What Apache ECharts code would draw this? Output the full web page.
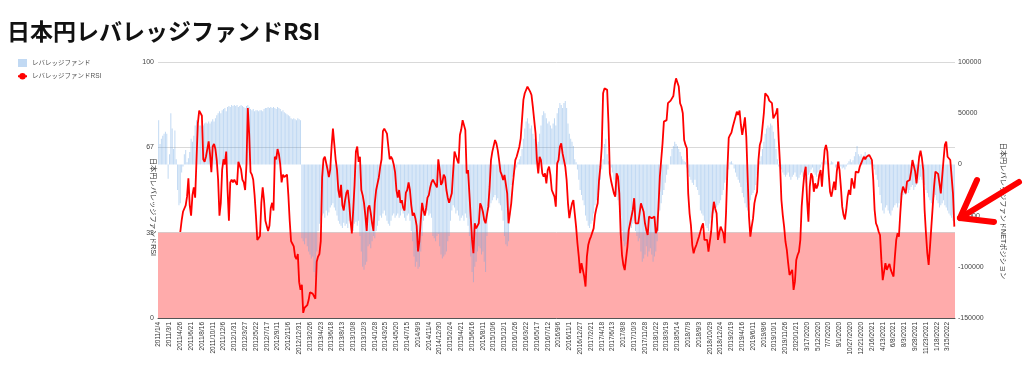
<!DOCTYPE html>
<html>
<head>
<meta charset="utf-8">
<script src="https://cdn.jsdelivr.net/npm/echarts@6/dist/echarts.min.js"></script>
<style>
html,body{margin:0;padding:0;background:#fff;}
#chart{width:1024px;height:380px;}
</style>
</head>
<body>
<div id="chart"></div>
<script>
// ---------- texts ----------
const titleText = '日本円レバレッジファンドRSI';
const barName = 'レバレッジファンド';
const lineName = 'レバレッジファンドRSI';
const leftAxisName = '日本円レバレッジファンドRSI';
const rightAxisName = '日本円レバレッジファンドNETポジション';

// ---------- categories: weekly report dates ----------
const firstWeek = '2011-01-04';
const weekCount = 590;
// report dates that were published on the Monday instead of the Tuesday
const mondayRange = ['2018-01-02', '2018-12-25'];
const holidayShift = ['2013-01-01', '2020-12-22'];
const formatSwitch = '2020-02-01'; // from here on labels are M/D/YYYY

// ---------- axis ticks ----------
const rsiTicks = [0, 33, 67, 100];
const netTicks = [-150000, -100000, -50000, 0, 50000, 100000];
const oversold = [0, 100 / 3];

// ---------- series values ----------
const netPosition = [
  43000, 20000, 25000, 28000, 30000, 32000, 30000, -14000, 10000, 50000, 35000, 15000, 33000, 5000, -25000, -40000,
  -38000, -8000, -2000, 10000, 14000, 2000, 6000, 12000, 25000, 22000, 28000, 38000, 43000, 40000, 38000, 38000,
  37000, 38000, 40000, 41000, 40000, 42000, 40000, 42000, 44000, 42000, 45000, 48000, 50000, 52000, 50000, 53000,
  54000, 55000, 52000, 56000, 57000, 56000, 58000, 57000, 58000, 57000, 58000, 56000, 57000, 58000, 57000, 56000,
  55000, 57000, 58000, 56000, 54000, 53000, 54000, 52000, 53000, 53000, 52000, 53000, 53000, 52000, 54000, 55000,
  55000, 56000, 55000, 56000, 55000, 56000, 55000, 54000, 56000, 55000, 54000, 52000, 53000, 51000, 50000, 49000,
  48000, 47000, 45000, 44000, 45000, 44000, 43000, 45000, 44000, 43000, -72000, -75000, -78000, -72000, -80000, -85000,
  -88000, -92000, -90000, -105000, -110000, -85000, -65000, -58000, -55000, -50000, -48000, -52000, -45000, -50000, -47000, -42000,
  -40000, -38000, -42000, -45000, -50000, -55000, -58000, -60000, -62000, -57000, -60000, -58000, -62000, -55000, -50000, -60000,
  -65000, -58000, -56000, -60000, -55000, -70000, -85000, -100000, -103000, -98000, -95000, -80000, -78000, -82000, -75000, -70000,
  -72000, -65000, -60000, -55000, -50000, -52000, -48000, -45000, -50000, -55000, -58000, -60000, -55000, -50000, -48000, -52000,
  -50000, -48000, -52000, -50000, -45000, -48000, -52000, -55000, -50000, -48000, -55000, -65000, -75000, -90000, -100000, -95000,
  -102000, -100000, -85000, -70000, -55000, -50000, -48000, -45000, -50000, -48000, -52000, -70000, -72000, -75000, -70000, -68000,
  -80000, -88000, -92000, -90000, -88000, -85000, -75000, -70000, -55000, -45000, -40000, -42000, -48000, -45000, -50000, -55000,
  -52000, -50000, -55000, -48000, -52000, -60000, -70000, -90000, -105000, -115000, -100000, -95000, -85000, -80000, -82000, -88000,
  -85000, -95000, -105000, -70000, -45000, -42000, -38000, -35000, -32000, -30000, -35000, -33000, -38000, -40000, -45000, -55000,
  -70000, -78000, -80000, -75000, -50000, -20000, -12000, -8000, -5000, -3000, 2000, 5000, 8000, 15000, 25000, 35000,
  42000, 45000, 40000, 35000, 38000, 30000, 25000, 28000, 20000, 22000, 30000, 38000, 48000, 52000, 50000, 45000,
  40000, 42000, 38000, 35000, 40000, 45000, 38000, 50000, 55000, 60000, 58000, 55000, 60000, 62000, 55000, 40000,
  30000, 25000, 22000, 18000, 5000, 2000, -5000, -15000, -25000, -30000, -35000, -40000, -50000, -55000, -60000, -62000,
  -58000, -55000, -48000, -40000, -35000, -30000, -25000, -15000, -5000, 5000, 20000, 25000, 10000, 3000, -5000, -3000,
  -8000, -15000, -25000, -30000, -35000, -40000, -50000, -65000, -75000, -80000, -78000, -72000, -65000, -60000, -62000, -58000,
  -55000, -65000, -70000, -75000, -72000, -85000, -95000, -92000, -88000, -80000, -90000, -85000, -82000, -88000, -95000, -90000,
  -85000, -75000, -65000, -45000, -38000, -30000, -25000, -18000, -10000, -5000, 0, 8000, 15000, 18000, 22000, 20000,
  18000, 15000, 12000, 8000, 5000, 3000, 2000, -3000, -8000, -12000, -15000, -18000, -20000, -15000, -22000, -25000,
  -30000, -45000, -48000, -50000, -55000, -60000, -62000, -65000, -58000, -52000, -50000, -48000, -45000, -42000, -40000, -38000,
  -35000, -30000, -25000, -18000, -15000, -10000, -5000, 2000, 3000, 1000, -4000, -8000, -12000, -15000, -18000, -22000,
  -28000, -32000, -38000, -42000, -45000, -40000, -35000, -30000, -28000, -25000, -20000, -10000, -2000, 3000, 8000, 15000,
  22000, 30000, 35000, 38000, 36000, 40000, 38000, 32000, 25000, 15000, 5000, -2000, -3000, -5000, -8000, -10000,
  -12000, -10000, -8000, -12000, -15000, -12000, -10000, -8000, -12000, -15000, -13000, -10000, -8000, -12000, -15000, -18000,
  -15000, -10000, -8000, -5000, -3000, -8000, -10000, -12000, -8000, -5000, -3000, 2000, 5000, 3000, 4000, 2000,
  -2000, 1000, 3000, 2000, 0, -3000, -2000, 1000, 3000, -2000, -4000, -3000, -5000, -2000, 1000, 3000,
  5000, 2000, 4000, 8000, 12000, 18000, 10000, 8000, 10000, 6000, 9000, 12000, 8000, 10000, 6000, 4000,
  2000, -2000, -5000, -10000, -15000, -22000, -30000, -38000, -45000, -48000, -42000, -40000, -45000, -48000, -50000, -45000,
  -42000, -40000, -38000, -42000, -38000, -35000, -32000, -30000, -28000, -30000, -25000, -28000, -25000, -22000, -20000, -25000,
  -22000, -20000, -18000, -15000, -12000, -15000, -18000, -20000, -25000, -28000, -32000, -35000, -38000, -35000, -32000, -30000,
  -35000, -38000, -42000, -40000, -38000, -35000, -40000, -42000, -45000, -48000, -50000, -52000, -55000, -50000
];

const rsi = [
  null, null, null, null, null, null, null, null, null, null, null, null, null, null, null, null,
  33.6, 38, 41.5, 42, 44, 47.4, 54.6, 44, 40, 48, 51, 47, 61.7, 76, 81, 81,
  79, 62, 61, 63, 66, 69, 64, 57, 67, 68, 66, 61.7, 54, 40, 45, 58,
  62, 60, 65, 50, 38, 53, 54, 53, 54, 53, 52, 61, 61, 58, 54, 53,
  50, 60, 82, 72, 57, 56, 54, 48, 40, 30.5, 31, 32, 45, 51, 46, 38,
  38, 34, 36, 43, 45, 42, 63, 62, 66, 64, 60, 53, 56, 55, 55, 56,
  48, 38, 30, 29, 28, 24, 23, 25, 14, 11, 13, 2, 4, 4.5, 5, 7,
  10, 9.5, 9.5, 9, 7.5, 22, 24, 25, 30, 55, 62, 63, 62.5, 58, 55, 58,
  67, 74, 68, 62, 58, 50, 47, 52, 44, 42, 46, 49, 50, 45, 38, 33,
  42, 52, 65, 67, 61, 63, 50, 48, 45, 40, 34, 43, 44, 41, 37, 34,
  45, 50, 50, 55, 59, 62, 73, 74, 74, 72, 67, 62, 63, 62, 60, 57,
  50, 47, 50, 45, 46, 43, 42, 49, 50, 53, 50, 44, 40, 41, 39, 36,
  26, 30, 38, 45, 42, 40, 43, 47, 48, 51, 53, 54, 53, 52, 51, 62,
  58, 52, 53, 56, 55, 50, 47, 45, 44.8, 48.7, 57.2, 65, 65, 61.7, 60.4, 71.5,
  73.7, 77.3, 77.3, 73.4, 56.5, 57.8, 48.7, 39.6, 30.5, 25.3, 37, 35, 35, 37, 44.8, 43.5,
  41.5, 38.3, 37, 36.3, 43.5, 51.3, 61.7, 65, 65.6, 69.5, 68.2, 65.6, 61.7, 57.2, 55.9, 53.9,
  55.9, 55.2, 48.7, 37, 40.9, 44.8, 51.3, 56.5, 61.7, 63, 63.7, 66.9, 70.2, 69.5, 85.2, 87.8,
  88.4, 90.4, 91, 88.4, 87.1, 82.5, 77.3, 72.1, 61.7, 56.5, 63, 61.7, 56.5, 55.2, 56.5, 52.6,
  57.8, 59.1, 55.9, 50, 48.7, 47.4, 43.5, 60.4, 61.7, 66.9, 68.2, 64.3, 63.7, 59.1, 53.9, 44.8,
  39, 42.2, 44.8, 46.1, 40.9, 35.7, 29.2, 24, 17.5, 21.4, 21.4, 16.2, 12.3, 24, 28.5, 30.5,
  31.8, 32.4, 35, 40.2, 42.8, 44.8, 53.9, 59.1, 66.9, 87.8, 89.7, 89.1, 89.1, 76, 56.5, 53.3,
  52.6, 48.7, 47.4, 56.5, 55.2, 48.7, 33.1, 24.6, 20.7, 18.7, 18.7, 27.9, 34.4, 37, 37, 42.2,
  46.8, 37, 37, 37, 40.9, 44.8, 44.8, 41.5, 37, 34.4, 32.4, 39.6, 40.2, 39, 39, 39.6,
  33.1, 34.4, 43.5, 55.2, 61.7, 68.2, 76.7, 77.3, 77.3, 83.9, 84.1, 84.9, 85.2, 86.7, 91, 93.6,
  93, 90.4, 83.9, 82.5, 80, 69.5, 67.6, 66.3, 48.7, 40.9, 36.3, 28.5, 25.3, 27.2, 28.5, 27.9,
  31.8, 33.7, 35.7, 37, 30.5, 29.8, 30.5, 25.9, 26.6, 33.7, 40.9, 45.4, 42.8, 40.9, 30.5, 33.1,
  35.7, 35, 33.1, 29.2, 40.9, 57.8, 70.4, 71.5, 72.4, 74.7, 76.7, 78.6, 80.6, 79.3, 81, 75.4,
  71.5, 74.7, 78.4, 70.8, 55.2, 39.6, 31.8, 35.7, 38.9, 44.8, 47.4, 49.3, 61.7, 67.6, 69.3, 69.5,
  80, 87.8, 88.4, 86.5, 84.9, 84.5, 83.9, 78, 77.3, 80, 81.9, 69.5, 59.8, 46.1, 40.2, 35.7,
  29.8, 26.6, 21.4, 16.8, 16.2, 18.8, 11, 14.2, 22.7, 24.6, 25.9, 30.5, 43.5, 50.6, 56.5, 59.1,
  46.1, 37.6, 51.3, 56.5, 55.2, 49.3, 52.6, 50.6, 52, 55.9, 57.8, 51.3, 59.1, 65.6, 67.6, 65,
  56.5, 49.3, 47.4, 47.4, 53.3, 50, 57.2, 61.1, 57.8, 51.3, 43.5, 40.2, 38.5, 42.2, 47.4, 50,
  48.1, 54.6, 52.6, 50.6, 57.2, 57.8, 56.8, 59.1, 60.4, 60.7, 63, 62, 63, 63.3, 63.7, 63,
  61.7, 53.9, 42.2, 37, 35.7, 33.7, 32.4, 22.7, 14.8, 14.8, 21.4, 18.8, 20.1, 21.1, 18.8, 17.4,
  16.2, 24, 30.5, 33.1, 31.8, 40.9, 48.7, 51.3, 50.6, 48.7, 53.3, 53.7, 53.9, 57.2, 61.7, 61.7,
  57.2, 52.6, 52.6, 63, 65.4, 62.4, 57.8, 42.2, 33.1, 25.3, 20.7, 27.9, 35.7, 43.5, 51.3, 57.2,
  56.8, 56.3, 52.6, 48.7, 48.7, 61.7, 67.6, 68.9, 63, 63, 61.7, 55.2, 48.7, 35.7
];

// ---------- build category labels ----------
function buildCategories() {
  const DAY = 86400000;
  const t0 = Date.parse(firstWeek + 'T00:00:00Z');
  const mon0 = Date.parse(mondayRange[0] + 'T00:00:00Z');
  const mon1 = Date.parse(mondayRange[1] + 'T00:00:00Z');
  const hol = holidayShift.map(s => Date.parse(s + 'T00:00:00Z'));
  const sw = Date.parse(formatSwitch + 'T00:00:00Z');
  const out = [];
  for (let i = 0; i < weekCount; i++) {
    let t = t0 + i * 7 * DAY;
    if ((t >= mon0 && t <= mon1) || hol.indexOf(t) >= 0) t -= DAY;
    const d = new Date(t);
    const y = d.getUTCFullYear(), m = d.getUTCMonth() + 1, dd = d.getUTCDate();
    out.push(t < sw ? (y + '/' + m + '/' + dd) : (m + '/' + dd + '/' + y));
  }
  return out;
}
const categories = buildCategories();

const FONT = "'Liberation Sans', 'Noto Sans CJK JP', sans-serif";

const chart = echarts.init(document.getElementById('chart'), null, { renderer: 'canvas' });
chart.setOption({
  animation: false,
  backgroundColor: '#ffffff',
  textStyle: { fontFamily: FONT },
  title: {
    text: titleText,
    left: 2,
    top: 15,
    textStyle: { fontSize: 23, fontWeight: 'bold', color: '#111', fontFamily: "'Noto Sans CJK JP', sans-serif" }
  },
  legend: {
    orient: 'vertical',
    left: 12,
    top: 54,
    itemWidth: 9,
    itemHeight: 8,
    itemGap: 6,
    textStyle: { fontSize: 6.5, color: '#555', fontFamily: FONT },
    data: [{ name: barName, icon: 'rect' }, { name: lineName }]
  },
  grid: { left: 158, right: 69, top: 62, bottom: 62, containLabel: false },
  xAxis: {
    type: 'category',
    data: categories,
    boundaryGap: true,
    axisLine: { onZero: false, lineStyle: { color: '#555', width: 1 } },
    axisTick: { show: false },
    axisLabel: { rotate: 90, interval: 7, fontSize: 6.5, color: '#333', margin: 4, fontFamily: FONT }
  },
  yAxis: [
    {
      type: 'value',
      position: 'left',
      min: rsiTicks[0],
      max: rsiTicks[rsiTicks.length - 1],
      interval: 100 / 3,
      name: leftAxisName,
      nameLocation: 'middle',
      nameRotate: -90,
      nameGap: 1,
      nameMoveOverlap: false,
      nameTextStyle: { fontSize: 7.2, color: '#333', padding: [0, 0, 0, 34], fontFamily: FONT },
      axisLine: { show: false },
      axisTick: { show: false },
      axisLabel: { fontSize: 7, color: '#444', margin: 4, formatter: v => String(Math.round(v)) },
      splitLine: { show: true, lineStyle: { color: '#d9d9d9', width: 1 } }
    },
    {
      type: 'value',
      position: 'right',
      min: netTicks[0],
      max: netTicks[netTicks.length - 1],
      interval: 50000,
      name: rightAxisName,
      nameLocation: 'middle',
      nameRotate: -90,
      nameGap: 44,
      nameMoveOverlap: false,
      nameTextStyle: { fontSize: 7.2, color: '#333', padding: [0, 0, 0, 42], fontFamily: FONT },
      axisLine: { show: false },
      axisTick: { show: false },
      axisLabel: { fontSize: 7, color: '#444', margin: 3, formatter: v => String(v) },
      splitLine: { show: false }
    }
  ],
  series: [
    {
      name: barName,
      type: 'bar',
      yAxisIndex: 1,
      data: netPosition,
      barCategoryGap: '30%',
      itemStyle: { color: 'rgba(100,160,225,0.4)' },
      z: 3
    },
    {
      name: lineName,
      type: 'line',
      yAxisIndex: 0,
      data: rsi,
      symbol: 'none',
      showSymbol: false,
      connectNulls: false,
      lineStyle: { color: '#ff0000', width: 1.8 },
      itemStyle: { color: '#ff0000' },
      z: 4,
      markArea: {
        silent: true,
        itemStyle: { color: 'rgba(255,0,0,0.33)' },
        data: [[{ yAxis: oversold[0] }, { yAxis: oversold[1] }]]
      }
    }
  ],
  graphic: [
    {
      type: 'polyline',
      z: 100,
      shape: { points: [[1019, 182], [960, 218]] },
      style: { stroke: '#ff0000', lineWidth: 6, lineCap: 'round', fill: null }
    },
    {
      type: 'polyline',
      z: 100,
      shape: { points: [[977, 180], [960, 218], [994, 222]] },
      style: { stroke: '#ff0000', lineWidth: 6, lineCap: 'round', lineJoin: 'round', fill: null }
    }
  ]
});
</script>
</body>
</html>
